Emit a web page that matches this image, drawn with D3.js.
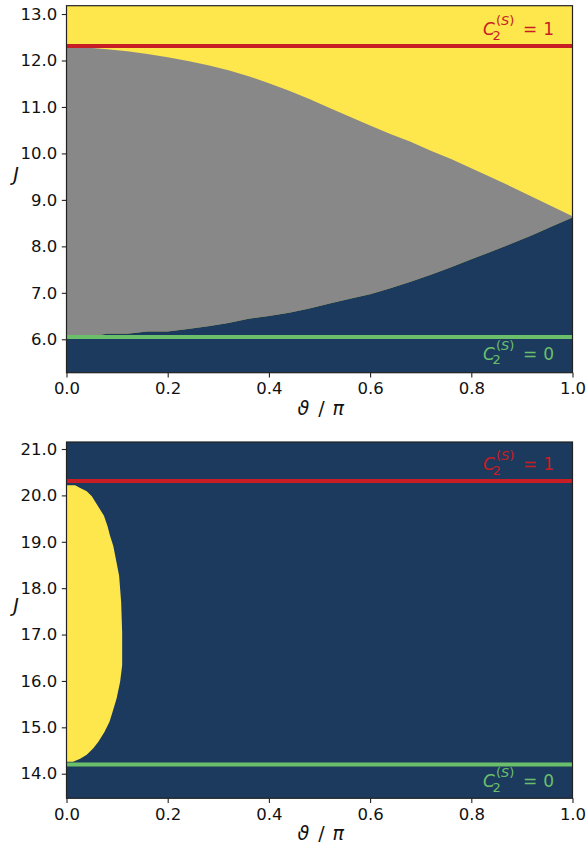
<!DOCTYPE html>
<html>
<head>
<meta charset="utf-8">
<script src="https://cdn.jsdelivr.net/npm/d3@7"></script>
<style>
  body { margin: 0; background: #fff; }
  svg { display: block; font-family: "DejaVu Sans", sans-serif; }
</style>
</head>
<body>
<svg id="chart" width="587" height="855"></svg>
<script>
"use strict";

// ---- data ----
let thetaTicks = [0, 0.2, 0.4, 0.6, 0.8, 1.0];
let topJTicks = [6, 7, 8, 9, 10, 11, 12, 13];
let bottomJTicks = [14, 15, 16, 17, 18, 19, 20, 21];

let topJRange = [5.281, 13.179];
let bottomJRange = [13.47, 21.151];

// critical couplings (C2 = 1 / C2 = 0)
let topCritical = [12.31, 6.05];
let bottomCritical = [20.31, 14.2];

// top panel: phase boundaries sampled along theta/pi
let thetaGrid = [0, 0.04, 0.08, 0.12, 0.16, 0.20, 0.24, 0.28, 0.32, 0.36, 0.40, 0.44, 0.48,
                 0.52, 0.56, 0.60, 0.64, 0.68, 0.72, 0.76, 0.80, 0.84, 0.88, 0.92, 0.96, 1.0];
let upperJ = [12.28, 12.28, 12.24, 12.20, 12.14, 12.07, 11.99, 11.90, 11.79, 11.66, 11.51, 11.35, 11.17,
              10.98, 10.79, 10.60, 10.42, 10.25, 10.06, 9.88, 9.68, 9.48, 9.28, 9.07, 8.86, 8.65];
let lowerJ = [6.05, 6.05, 6.12, 6.12, 6.17, 6.17, 6.22, 6.28, 6.35, 6.44, 6.50, 6.57, 6.66,
              6.77, 6.87, 6.97, 7.10, 7.24, 7.39, 7.55, 7.72, 7.89, 8.06, 8.24, 8.43, 8.62];

// bottom panel: right edge of the yellow lobe
let lobeJ = [20.22, 20.16, 20.09, 19.98, 19.84, 19.70, 19.56, 19.34, 19.13, 18.91, 18.55, 18.27,
             17.70, 17.05, 16.34, 15.98, 15.62, 15.33, 15.12, 14.90, 14.69, 14.55, 14.41, 14.32, 14.26];
let lobeTheta = [0.017, 0.027, 0.040, 0.050, 0.058, 0.066, 0.074, 0.081, 0.086, 0.0925, 0.099, 0.104,
                 0.108, 0.110, 0.110, 0.106, 0.099, 0.091, 0.085, 0.075, 0.063, 0.053, 0.040, 0.027, 0.013];

// ---- colours ----
let yellow = "#fde74c";
let grey = "#898888";
let navy = "#1b3a5e";
let red = "#c81d25";
let green = "#6bbf6a";

let svg = d3.select("#chart");
let fontSize = 16.5;

let x = d3.scaleLinear().domain([0, 1]).range([66.5, 572.5]);

// C_2^(S) = value, right-aligned at xRight
function drawC2(g, xRight, baseline, value, color) {
    let t = g.append("g").attr("fill", color).style("font-size", "17px");
    t.append("text").attr("x", xRight).attr("y", baseline)
        .attr("text-anchor", "end").text("1" === value || "0" === value ? value : value);
    t.append("text").attr("x", xRight - 31).attr("y", baseline).text("=");
    t.append("text").attr("x", xRight - 71).attr("y", baseline)
        .style("font-style", "italic").text("C");
    t.append("text").attr("x", xRight - 61.5).attr("y", baseline + 4.5)
        .style("font-size", "13px").text("2");
    t.append("text").attr("x", xRight - 58).attr("y", baseline - 10)
        .style("font-size", "13px")
        .html('(<tspan font-style="italic">S</tspan>)');
}

function panel(top, bottom, jRange, jTicks, critical, clipId, fillBody) {
    let y = d3.scaleLinear().domain(jRange).range([bottom, top]);
    let g = svg.append("g");

    g.append("clipPath").attr("id", clipId)
        .append("rect")
        .attr("x", x(0)).attr("y", top)
        .attr("width", x(1) - x(0)).attr("height", bottom - top);

    let body = g.append("g").attr("clip-path", "url(#" + clipId + ")");
    fillBody(body, y);

    // critical lines
    body.selectAll("line.crit")
        .data(critical)
        .enter()
        .append("line")
        .attr("class", "crit")
        .attr("x1", x(0)).attr("x2", x(1))
        .attr("y1", d => y(d)).attr("y2", d => y(d))
        .attr("stroke", (d, i) => i === 0 ? red : green)
        .attr("stroke-width", 4);

    // annotations
    drawC2(g, 554, y(critical[0]) - 11, "1", red);
    drawC2(g, 554, y(critical[1]) + 23, "0", green);

    // axes
    let xAxis = d3.axisBottom(x).tickValues(thetaTicks)
        .tickFormat(d3.format(".1f")).tickSize(4.7).tickPadding(5);
    let yAxis = d3.axisLeft(y).tickValues(jTicks)
        .tickFormat(d3.format(".1f")).tickSize(4.7).tickPadding(4.5);

    let gx = g.append("g").attr("transform", "translate(0," + bottom + ")").call(xAxis);
    let gy = g.append("g").attr("transform", "translate(" + x(0) + ",0)").call(yAxis);
    [gx, gy].forEach(a => {
        a.select(".domain").remove();
        a.selectAll("text").style("font-size", fontSize + "px")
            .style("font-family", "DejaVu Sans").attr("fill", "#111");
        a.selectAll("line").attr("stroke", "#222").attr("stroke-width", 1.1);
    });

    // frame
    g.append("rect")
        .attr("x", x(0)).attr("y", top)
        .attr("width", x(1) - x(0)).attr("height", bottom - top)
        .attr("fill", "none").attr("stroke", "#222").attr("stroke-width", 1.2);

    // axis labels
    let cx = (x(0) + x(1)) / 2;
    let xl = g.append("g").style("font-size", "19px").attr("fill", "#111");
    xl.append("text").attr("x", cx - 22).attr("y", bottom + 42)
        .style("font-style", "italic").text("ϑ");
    xl.append("text").attr("x", cx + 2).attr("y", bottom + 42)
        .attr("text-anchor", "middle").text("/");
    xl.append("text").attr("x", cx + 13).attr("y", bottom + 42)
        .style("font-style", "italic").text("π");

    g.append("text")
        .attr("transform", "translate(16," + ((top + bottom) / 2 - 8) + ")")
        .attr("text-anchor", "middle").attr("fill", "#111")
        .style("font-size", "19px").style("font-style", "italic")
        .text("J");
}

// top panel
panel(5.7, 372.7, topJRange, topJTicks, topCritical, "clipTop", (body, y) => {
    let pts = thetaGrid.map((t, i) => ({t: t, lo: lowerJ[i], hi: upperJ[i]}));
    body.append("rect")
        .attr("x", x(0)).attr("y", y(topJRange[1]))
        .attr("width", x(1) - x(0)).attr("height", y(topJRange[0]) - y(topJRange[1]))
        .attr("fill", yellow);
    body.append("path")
        .datum(pts)
        .attr("fill", grey)
        .attr("d", d3.area().x(d => x(d.t)).y0(d => y(d.lo)).y1(d => y(d.hi)));
    body.append("path")
        .datum(pts)
        .attr("fill", navy)
        .attr("d", d3.area().x(d => x(d.t)).y0(y(topJRange[0]) + 2).y1(d => y(d.lo)));
});

// bottom panel
panel(442, 798.3, bottomJRange, bottomJTicks, bottomCritical, "clipBottom", (body, y) => {
    let pts = lobeJ.map((j, i) => ({j: j, t: lobeTheta[i]}));
    body.append("rect")
        .attr("x", x(0)).attr("y", y(bottomJRange[1]))
        .attr("width", x(1) - x(0)).attr("height", y(bottomJRange[0]) - y(bottomJRange[1]))
        .attr("fill", navy);
    body.append("path")
        .datum(pts)
        .attr("fill", yellow)
        .attr("d", d3.area().y(d => y(d.j)).x0(x(0)).x1(d => x(d.t)));
});
</script>
</body>
</html>
